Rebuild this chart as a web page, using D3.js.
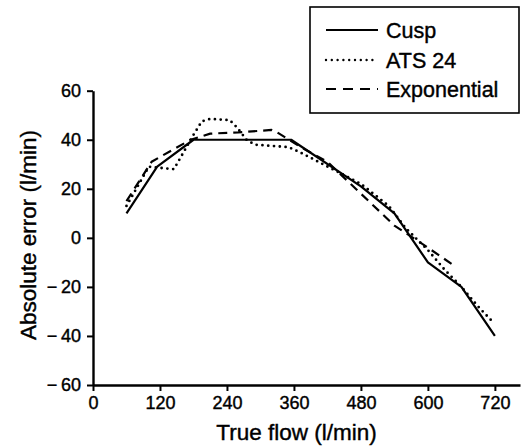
<!DOCTYPE html>
<html>
<head>
<meta charset="utf-8">
<script src="https://cdn.jsdelivr.net/npm/d3@7"></script>
<style>
  body { margin: 0; background: #fff; }
  svg { display: block; font-family: "Liberation Sans", Arial, sans-serif; }
  text { stroke: #000; stroke-width: 0.4px; fill: #000; }
</style>
</head>
<body>
<div id="chart"></div>
<script>
// true flow (l/min) vs absolute error (l/min)
const cusp = [[60, 10], [115, 29], [180, 40], [355, 40], [480, 21], [540, 10],
  [600, -10], [660, -20], [720, -40]];
const ats24 = [[60, 13], [100, 29], [145, 28], [165, 36], [180, 42], [195, 47.5],
  [210, 48.5], [245, 48], [258, 45], [275, 40], [290, 38], [350, 37], [370, 35],
  [480, 22], [530, 13], [560, 4], [600, -5], [630, -13], [660, -20], [690, -28], [715, -34]];
const exponential = [[60, 15], [105, 31], [120, 33], [175, 40], [210, 42.5], [260, 43],
  [320, 44], [330, 43], [380, 36], [420, 31], [480, 18], [540, 5], [600, -4], [645, -11]];

const xTicks = [0, 120, 240, 360, 480, 600, 720];
const yTicks = [-60, -40, -20, 0, 20, 40, 60];
const seriesNames = ["Cusp", "ATS 24", "Exponential"];

const width = 527, height = 446;
const svg = d3.select("#chart").append("svg")
  .attr("width", width)
  .attr("height", height);

const x = d3.scaleLinear().domain([0, 765]).range([93, 520]);
const y = d3.scaleLinear().domain([-60, 60]).range([385, 90.7]);

const styles = [
  { dash: null, width: 2.2, cap: "butt" },
  { dash: "0,5.8", width: 2.8, cap: "round" },
  { dash: "9,6", width: 2.2, cap: "butt" }
];

// minus sign followed by a thin gap, as in the print
const fmt = d => d < 0 ? "\u2212\u2009" + Math.abs(d) : String(d);

// y axis
const yAxis = svg.append("g")
  .attr("transform", `translate(${x(0)},0)`)
  .call(d3.axisLeft(y).tickValues(yTicks).tickFormat(fmt)
    .tickSize(6).tickSizeOuter(0).tickPadding(6));

// x axis
const xAxis = svg.append("g")
  .attr("transform", `translate(0,${y(-60)})`)
  .call(d3.axisBottom(x).tickValues(xTicks).tickSize(6).tickSizeOuter(0).tickPadding(5));

[yAxis, xAxis].forEach(g => {
  g.select(".domain").attr("stroke", "#000").attr("stroke-width", 2.4);
  g.selectAll(".tick line").attr("stroke", "#000").attr("stroke-width", 2);
  g.selectAll(".tick text")
    .attr("fill", "#000")
    .style("font-size", "18px")
    .style("font-family", "'Liberation Sans', Arial, sans-serif");
});

svg.append("text")
  .attr("x", (93 + 520) / 2 - 10)
  .attr("y", 440)
  .attr("text-anchor", "middle")
  .style("font-size", "22.5px")
  .text("True flow (l/min)");

svg.append("text")
  .attr("transform", `translate(36,235) rotate(-90)`)
  .attr("text-anchor", "middle")
  .style("font-size", "22.5px")
  .text("Absolute error (l/min)");

const line = d3.line().x(d => x(d[0])).y(d => y(d[1]));

[cusp, ats24, exponential].forEach((data, i) => {
  svg.append("path")
    .datum(data)
    .attr("fill", "none")
    .attr("stroke", "#000")
    .attr("stroke-width", styles[i].width)
    .attr("stroke-linecap", styles[i].cap)
    .attr("stroke-linejoin", "round")
    .attr("stroke-dasharray", styles[i].dash)
    .attr("d", line);
});

// legend
const legend = svg.append("g");
legend.append("rect")
  .attr("x", 310).attr("y", 7)
  .attr("width", 209).attr("height", 106)
  .attr("fill", "#fff")
  .attr("stroke", "#000")
  .attr("stroke-width", 1.6);

const legendY = [30, 60, 89];
seriesNames.forEach((name, i) => {
  legend.append("line")
    .attr("x1", 326).attr("x2", 378)
    .attr("y1", legendY[i]).attr("y2", legendY[i])
    .attr("stroke", "#000")
    .attr("stroke-width", i === 1 ? 2.4 : 2.2)
    .attr("stroke-linecap", styles[i].cap)
    .attr("stroke-dasharray", i === 2 ? "10,7" : styles[i].dash);
  legend.append("text")
    .attr("x", 386)
    .attr("y", legendY[i] + 7.5)
    .style("font-size", "21.5px")
    .text(name);
});
</script>
</body>
</html>
